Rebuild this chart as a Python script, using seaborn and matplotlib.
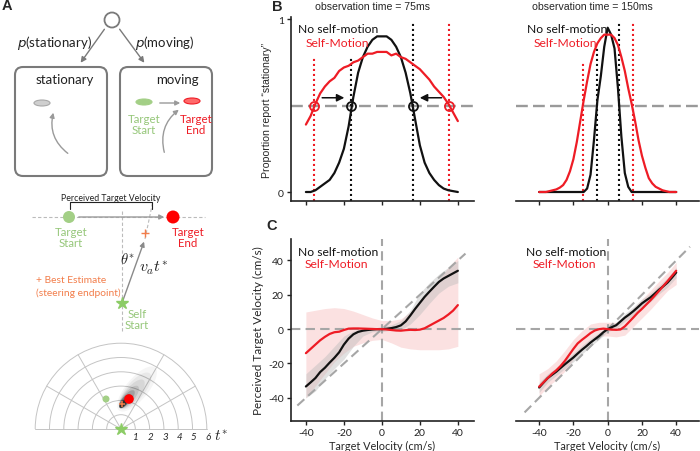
import numpy as np
import pandas as pd
import matplotlib
matplotlib.use("Agg")
import matplotlib.pyplot as plt
import seaborn as sns
from matplotlib.patches import FancyBboxPatch, Ellipse, Circle, Arc, FancyArrowPatch

# ---------------- data ----------------
# Panel B: proportion report "stationary"
b75_x = [-40, -37.5, -35, -32.5, -30, -27.5, -25, -22.5, -20, -17.5, -15, -12.5, -10, -7.5, -5, -2.5,
         0, 2.5, 5, 7.5, 10, 12.5, 15, 17.5, 20, 22.5, 25, 27.5, 30, 32.5, 35, 37.5, 40]
b75_none = [0.00, 0.00, 0.01, 0.03, 0.05, 0.07, 0.11, 0.17, 0.25, 0.38, 0.55, 0.69, 0.78, 0.84, 0.88, 0.90,
            0.90, 0.90, 0.88, 0.84, 0.78, 0.69, 0.57, 0.42, 0.27, 0.17, 0.11, 0.07, 0.04, 0.02, 0.01, 0.005, 0.00]
b75_self = [0.39, 0.44, 0.51, 0.57, 0.61, 0.64, 0.66, 0.70, 0.72, 0.73, 0.75, 0.76, 0.78, 0.80, 0.80, 0.81,
            0.81, 0.81, 0.79, 0.80, 0.78, 0.77, 0.75, 0.73, 0.71, 0.68, 0.65, 0.61, 0.58, 0.55, 0.51, 0.46, 0.41]
b75_thr_none = [-16.0, 16.5]
b75_thr_self = [-35.5, 35.5]

b150_x = [-40, -38, -36, -34, -32, -30, -28, -26, -24, -22, -20, -18, -16, -14, -12, -10, -8, -6, -4, -2,
          0, 2, 4, 6, 8, 10, 12, 14, 16, 18, 20, 22, 24, 26, 28, 30, 32, 34, 36, 38, 40]
b150_none = [0, 0, 0, 0, 0, 0, 0, 0, 0, 0, 0, 0, 0, 0, 0.02, 0.10, 0.30, 0.53, 0.67, 0.84,
             0.95, 0.91, 0.83, 0.60, 0.32, 0.11, 0.03, 0, 0, 0, 0, 0, 0, 0, 0, 0, 0, 0, 0, 0, 0]
b150_self = [0, 0, 0, 0.005, 0.01, 0.015, 0.025, 0.04, 0.07, 0.12, 0.19, 0.29, 0.41, 0.53, 0.64, 0.74, 0.81, 0.86, 0.89, 0.91,
             0.91, 0.91, 0.89, 0.85, 0.78, 0.70, 0.60, 0.51, 0.41, 0.30, 0.21, 0.14, 0.08, 0.05, 0.03, 0.02, 0.01, 0.005, 0, 0, 0]
b150_thr_none = [-6.4, 6.9]
b150_thr_self = [-14.3, 14.9]
b_ticks = [-40, -20, 0, 20, 40]

# Panel C: perceived target velocity
c_x = [-40, -37.5, -35, -32.5, -30, -27.5, -25, -22.5, -20, -17.5, -15, -12.5, -10, -7.5, -5, -2.5,
       0, 2.5, 5, 7.5, 10, 12.5, 15, 17.5, 20, 22.5, 25, 27.5, 30, 32.5, 35, 37.5, 40]
c75_none = [-33.4, -31.0, -28.5, -25.0, -22.5, -19.5, -16.7, -13.5, -9.0, -5.5, -3.0, -1.6, -0.9, -0.5, -0.2, 0.0,
            0.0, 0.2, 0.6, 1.2, 2.2, 4.5, 8.0, 11.8, 15.3, 18.8, 21.8, 24.7, 27.5, 29.5, 31.0, 32.5, 34.0]
c75_self = [-14.0, -11.5, -9.0, -6.5, -4.5, -2.8, -1.8, -1.5, -0.5, 0.3, 0.4, 0.4, 0.3, 0.2, 0.1, 0.0,
            0.0, -0.2, -0.5, -0.8, -0.9, -0.6, -0.4, -0.5, -0.3, 0.5, 2.0, 3.5, 5.0, 6.5, 8.5, 10.8, 14.0]
c150_none = [-34.0, -31.2, -28.5, -26.6, -24.8, -22.6, -20.5, -18.5, -16.5, -14.2, -12.0, -10.0, -7.8, -5.9, -4.0, -1.8,
             0.0, 1.2, 2.3, 4.5, 6.7, 8.5, 10.5, 12.7, 15.0, 16.8, 18.5, 20.7, 23.0, 25.0, 27.2, 30.0, 33.0]
c150_self = [-33.5, -31.0, -28.5, -26.0, -24.0, -21.5, -18.5, -15.0, -11.5, -8.3, -6.2, -4.3, -2.3, -0.8, 0.0, 0.3,
             0.0, -0.3, -0.4, -0.2, 1.6, 4.2, 6.8, 9.5, 11.8, 14.3, 16.8, 19.5, 22.3, 25.2, 28.0, 31.0, 34.0]

band_x = [-40, -35, -30, -25, -20, -15, -10, -5, 0, 5, 10, 15, 20, 25, 30, 35, 40]
c75_none_lo = [-40, -36, -29, -23, -17.5, -10, -4, -1.5, -1.5, -0.5, -0.5, 3, 8.5, 15, 21, 25, 27]
c75_none_hi = [-26, -21, -16, -10, -4, -1, 0, 0.5, 1.5, 2.5, 5, 11, 21, 27, 32, 36, 40]
c75_self_lo = [-40, -33, -26, -19, -14, -10, -8, -6.5, -6, -8, -10.5, -11.5, -12, -12, -12, -11.5, -10]
c75_self_hi = [10, 11, 12, 12.5, 12, 10.5, 8.5, 6.5, 5, 5, 6, 10, 16, 22, 29, 36, 42]
c150_none_lo = [-37, -31, -27, -23, -19, -14.5, -10, -6, -1.5, 0.5, 4.5, 8, 12.5, 16, 20.5, 24.5, 30]
c150_none_hi = [-31, -26, -22.5, -18, -14, -9.5, -5.5, -2, 1.5, 4, 9, 13, 17.5, 21, 25.5, 30, 36]
c150_self_lo = [-39, -33.5, -29.5, -24.5, -17.5, -12, -7.5, -4, -4, -4.5, -3.5, 1.5, 6.5, 11.5, 17, 22.5, 26]
c150_self_hi = [-26, -23, -18.5, -12.5, -6, -1, 3, 4, 4, 4, 7, 12, 17.5, 22.5, 28, 33, 39]
c_ticks = [-40, -20, 0, 20, 40]

polar_labels = ["1", "2", "3", "4", "5", "6"]

# ---------------- style ----------------
sns.set_theme(style="ticks")
plt.rcParams['font.family'] = ['Lato', 'DejaVu Sans']
plt.rcParams['mathtext.fontset'] = 'dejavusans'

BLACK = '#111111'
RED = '#ee1c25'
GREEN = '#a3cf86'
GREEN_T = '#96c77a'
ORANGE = '#f27d4a'
GRAYD = '#a6a6a6'

W, H = 700, 452
fig = plt.figure(figsize=(7, 4.52), dpi=100)


def add_ax(l, t, r, b):
    return fig.add_axes([l / W, 1 - b / H, (r - l) / W, (b - t) / H])


def ftext(x, y, s, **kw):
    fig.text(x / W, 1 - y / H, s, **kw)


axB1 = add_ax(290.7, 18, 474, 202)
axB2 = add_ax(516, 18, 699, 202)
axC1 = add_ax(290.7, 240, 474, 422)
axC2 = add_ax(516, 240, 699, 422)

for ax in [axB1, axB2, axC1, axC2]:
    ax.set_facecolor('none')
    sns.despine(ax=ax)
    for s in ['left', 'bottom']:
        ax.spines[s].set_linewidth(1.2)
        ax.spines[s].set_color('#222222')
    ax.tick_params(length=3, width=1, colors='#222222', labelsize=7.5, pad=2)
for ax in [axB2, axC2]:
    ax.spines['left'].set_visible(False)
    ax.tick_params(left=False, labelleft=False)

# ---------------- Panel B ----------------
def panel_b(ax, x, none, self_, thr_none, thr_self, tops_none, tops_self, xlim):
    ax.set_xlim(*xlim)
    ax.set_ylim(-0.052, 1.012)
    ax.axhline(0.5, color='#9a9a9a', lw=1.7, dashes=(5, 2.2), zorder=1)
    for t, top in zip(thr_none, tops_none):
        ax.vlines(t, -0.052, top, color=BLACK, lw=1.5, linestyles=[(0, (1, 1.4))], zorder=2)
    for t, top in zip(thr_self, tops_self):
        ax.vlines(t, -0.052, top, color=RED, lw=1.5, linestyles=[(0, (1, 1.4))], zorder=2)
    df = pd.DataFrame({'v': x, 'none': none, 'self': self_})
    sns.lineplot(data=df, x='v', y='none', color=BLACK, lw=1.6, ax=ax, zorder=3)
    sns.lineplot(data=df, x='v', y='self', color=RED, lw=1.6, ax=ax, zorder=3)
    ax.set_xticks(b_ticks)
    ax.set_xticklabels([])
    ax.set_xlabel('')
    ax.set_ylabel('')


panel_b(axB1, b75_x, b75_none, b75_self, b75_thr_none, b75_thr_self,
        [0.78, 0.99], [0.78, 0.99], (-48, 48.5))
panel_b(axB2, b150_x, b150_none, b150_self, b150_thr_none, b150_thr_self,
        [0.83, 0.99], [0.75, 0.99], (-53.5, 53.3))
axB1.set_yticks([0, 1])
axB1.set_yticklabels(['0', '1'])
axB1.set_ylabel('Proportion report \u201cstationary\u201d', fontsize=7.6,
                family=['Liberation Sans'], labelpad=4)

# circles at threshold crossings + arrows
axB1.plot(b75_thr_none, [0.5, 0.5], 'o', ms=6.5, mfc='none', mec=BLACK, mew=1.3, zorder=5)
axB1.plot(b75_thr_self, [0.5, 0.5], 'o', ms=6.5, mfc='none', mec=RED, mew=1.3, zorder=5)
axB1.annotate('', xy=(b75_thr_none[0] - 2.3, 0.545), xytext=(b75_thr_self[0] + 2.6, 0.545),
              arrowprops=dict(arrowstyle='-|>', color=BLACK, lw=1.1, mutation_scale=11))
axB1.annotate('', xy=(b75_thr_none[1] + 2.0, 0.545), xytext=(b75_thr_self[1] - 2.6, 0.545),
              arrowprops=dict(arrowstyle='-|>', color=BLACK, lw=1.1, mutation_scale=11))

for ax, dx in [(axB1, (0.04, 0.084)), (axB2, (0.06, 0.095))]:
    ax.text(dx[0], 0.935, 'No self-motion', transform=ax.transAxes, fontsize=8.7, color=BLACK,
            va='center', ha='left')
    ax.text(dx[1], 0.859, 'Self-Motion', transform=ax.transAxes, fontsize=8.7, color=RED,
            va='center', ha='left')

ftext(373, 7, 'observation time = 75ms', fontsize=7.6, ha='center', va='center',
      family=['Liberation Sans'])
ftext(592, 7, 'observation time = 150ms', fontsize=7.6, ha='center', va='center',
      family=['Liberation Sans'])

# ---------------- Panel C ----------------
def panel_c(ax, none, self_, nlo, nhi, slo, shi, xlim, diag):
    ax.set_xlim(*xlim)
    ax.set_ylim(-53.5, 52.5)
    ax.fill_between(band_x, slo, shi, color='#fbdede', alpha=0.9, lw=0, zorder=1)
    ax.fill_between(band_x, nlo, nhi, color='#bdbdbd', alpha=0.45, lw=0, zorder=1.5)
    ax.axhline(0, color=GRAYD, lw=1.5, dashes=(4.5, 2.5), zorder=2)
    ax.axvline(0, color=GRAYD, lw=1.5, dashes=(4.5, 2.5), zorder=2)
    ax.plot(diag, diag, color=GRAYD, lw=1.5, dashes=(4.5, 2.5), zorder=2)
    df = pd.DataFrame({'v': c_x, 'none': none, 'self': self_})
    sns.lineplot(data=df, x='v', y='none', color=BLACK, lw=1.6, ax=ax, zorder=3)
    sns.lineplot(data=df, x='v', y='self', color=RED, lw=1.6, ax=ax, zorder=3)
    ax.set_xticks(c_ticks)
    ax.set_xticklabels([str(t) for t in c_ticks])
    ax.set_xlabel('Target Velocity (cm/s)', fontsize=7.8, labelpad=2.5)
    ax.set_ylabel('')
    ax.set_yticks(c_ticks)


panel_c(axC1, c75_none, c75_self, c75_none_lo, c75_none_hi, c75_self_lo, c75_self_hi,
        (-48, 48.5), [-44.5, 44])
panel_c(axC2, c150_none, c150_self, c150_none_lo, c150_none_hi, c150_self_lo, c150_self_hi,
        (-53.5, 53.3), [-48.5, 48])
axC1.set_yticklabels([str(t) for t in c_ticks])
axC1.set_ylabel('Perceived Target Velocity (cm/s)', fontsize=8.5, labelpad=3)

for ax, dx in [(axC1, (0.04, 0.078)), (axC2, (0.055, 0.093))]:
    ax.text(dx[0], 0.934, 'No self-motion', transform=ax.transAxes, fontsize=8.7, color=BLACK,
            va='center', ha='left')
    ax.text(dx[1], 0.863, 'Self-Motion', transform=ax.transAxes, fontsize=8.7, color=RED,
            va='center', ha='left')

# panel letters
ftext(7, 6, 'A', fontsize=10.5, fontweight='bold', ha='center', va='center', family=['Liberation Sans'])
ftext(277, 7, 'B', fontsize=10.5, fontweight='bold', ha='center', va='center', family=['Liberation Sans'])
ftext(272, 226, 'C', fontsize=10.5, fontweight='bold', ha='center', va='center', family=['Liberation Sans'])

# ---------------- Panel A (diagram) ----------------
axA = fig.add_axes([0, 0, 240 / W, 1])
axA.set_xlim(0, 240)
axA.set_ylim(452, 0)
axA.axis('off')
axA.set_facecolor('none')

BOXC = '#7a7a7a'
axA.add_patch(Circle((112, 21), 7.5, fc='white', ec=BOXC, lw=1.3))
for a, b in [((106, 28), (79, 66)), ((118, 28), (146, 66))]:
    axA.add_patch(FancyArrowPatch(a, b, arrowstyle='-|>', mutation_scale=8, color=BOXC, lw=1.0))
axA.text(55, 43, '$p$(stationary)', fontsize=9.5, ha='center', va='center', color='#222')
axA.text(165, 43, '$p$(moving)', fontsize=9.5, ha='center', va='center', color='#222')
for x0 in [15, 120]:
    axA.add_patch(FancyBboxPatch((x0, 68), 92, 109, boxstyle='round,pad=0,rounding_size=8',
                                 fc='none', ec=BOXC, lw=1.5))
axA.text(65, 80, 'stationary', fontsize=9.5, ha='center', va='center', color='#222')
axA.text(177, 80, 'moving', fontsize=9.5, ha='center', va='center', color='#222')
axA.add_patch(Ellipse((42, 104), 16, 6, fc='#cfcfcf', ec='#a8a8a8', lw=0.8))
axA.add_patch(FancyArrowPatch((70, 156), (54, 111), arrowstyle='-|>', mutation_scale=7,
                              color='#9a9a9a', lw=1.0, connectionstyle='arc3,rad=-0.35'))
axA.add_patch(Ellipse((144, 103), 16, 6, fc=GREEN, ec=GREEN, lw=0.8))
axA.add_patch(Ellipse((192, 102), 16, 6, fc='#ff6a6a', ec=RED, lw=0.8))
axA.add_patch(FancyArrowPatch((157, 104), (183, 104), arrowstyle='-|>', mutation_scale=7,
                              color='#9a9a9a', lw=1.0))
axA.add_patch(FancyArrowPatch((165, 156), (181, 109), arrowstyle='-|>', mutation_scale=7,
                              color='#9a9a9a', lw=1.0, connectionstyle='arc3,rad=-0.35'))
axA.text(144, 125, 'Target\nStart', fontsize=8.3, ha='center', va='center', color=GREEN_T, linespacing=1.05)
axA.text(196, 125, 'Target\nEnd', fontsize=8.3, ha='center', va='center', color=RED, linespacing=1.05)

# perceived velocity schematic
axA.text(111, 199, 'Perceived Target Velocity', fontsize=6.3, ha='center', va='center', color='#222')
axA.plot([70, 70, 152, 152], [210, 203, 203, 210], color='#222', lw=0.8)
axA.plot([32, 205], [218, 218], color='#bbbbbb', lw=0.8, dashes=(3, 2), zorder=1)
axA.plot([122, 122], [212, 333], color='#bbbbbb', lw=0.8, dashes=(3, 2), zorder=1)
axA.add_patch(Circle((69, 218), 6, fc=GREEN, ec='none', zorder=3))
axA.add_patch(FancyArrowPatch((76, 218), (167, 218), arrowstyle='-|>', mutation_scale=7,
                              color='#9a9a9a', lw=1.0, zorder=3))
axA.add_patch(Circle((173, 218), 6.5, fc='#ff0000', ec='none', zorder=3))
axA.text(71, 238, 'Target\nStart', fontsize=8.3, ha='center', va='center', color=GREEN_T, linespacing=1.05)
axA.text(188, 238, 'Target\nEnd', fontsize=8.3, ha='center', va='center', color=RED, linespacing=1.05)
axA.plot([145, 154], [240, 197], color='#bbbbbb', lw=0.8, dashes=(3, 2), zorder=1)
axA.add_patch(FancyArrowPatch((122, 304), (145, 240), arrowstyle='-|>', mutation_scale=7,
                              color='#8a8a8a', lw=1.0, zorder=3))
axA.plot([145], [234], marker='+', ms=5.5, mew=1.0, color=ORANGE, zorder=4)
axA.text(128, 260, r'$\theta^{*}$', fontsize=10.5, ha='center', va='center', color='#222',
         math_fontfamily='cm')
axA.text(153, 268, r'$v_{a}t^{*}$', fontsize=11.5, ha='center', va='center', color='#222',
         math_fontfamily='cm')
axA.text(36, 281, '+ Best Estimate', fontsize=7.4, ha='left', va='center', color=ORANGE)
axA.text(36, 293, '(steering endpoint)', fontsize=7.4, ha='left', va='center', color=ORANGE)
axA.plot([122], [304], marker='*', ms=9, color='#8ccc66', mec='#8ccc66', zorder=4)
axA.text(137, 320, 'Self\nStart', fontsize=8.3, ha='center', va='center', color=GREEN_T, linespacing=1.05)

# polar belief map
cx, cy, unit = 121, 430, 14.3
for k in range(1, 7):
    r = k * unit
    axA.add_patch(Arc((cx, cy), 2 * r, 2 * r, theta1=180, theta2=360, color='#c4c4c4', lw=0.7))
axA.plot([cx - 6 * unit, cx + 6 * unit], [cy, cy], color='#c4c4c4', lw=0.7)
for ang in [30, 60, 120, 150]:
    t = np.deg2rad(ang)
    axA.plot([cx, cx + 6 * unit * np.cos(t)], [cy, cy - 6 * unit * np.sin(t)], color='#c4c4c4', lw=0.7)
# blurred likelihood blob, built from stacked translucent ellipses
for (ex, ey, w, h, a) in [(137, 390, 56, 22, 0.04), (135, 392, 46, 18, 0.05), (132, 395, 36, 14, 0.07),
                          (129, 398, 28, 11, 0.1), (127, 400, 22, 8.5, 0.16), (125, 402, 17, 7, 0.25),
                          (124, 404, 13, 5.5, 0.35), (123, 405, 9, 4, 0.45)]:
    axA.add_patch(Ellipse((ex, ey), w, h, angle=-50, fc='black', ec='none', alpha=a, zorder=2))
axA.add_patch(Circle((106, 400), 3.5, fc=GREEN, ec='none', zorder=3))
axA.add_patch(Circle((129, 400), 4.8, fc='#ff0000', ec='none', zorder=3))
axA.plot([122], [405], marker='+', ms=5, mew=1.1, color=ORANGE, zorder=4)
axA.plot([cx], [cy], marker='*', ms=9, color='#8ccc66', mec='#8ccc66', zorder=4)
for k, lab in enumerate(polar_labels, start=1):
    axA.text(cx + k * unit + 1, 438, lab, fontsize=7, style='italic', ha='center', va='center', color='#222')
axA.text(221, 437, r'$t^{*}$', fontsize=11, ha='center', va='center', color='#222', math_fontfamily='cm')

fig.savefig('out.png', dpi=100)
